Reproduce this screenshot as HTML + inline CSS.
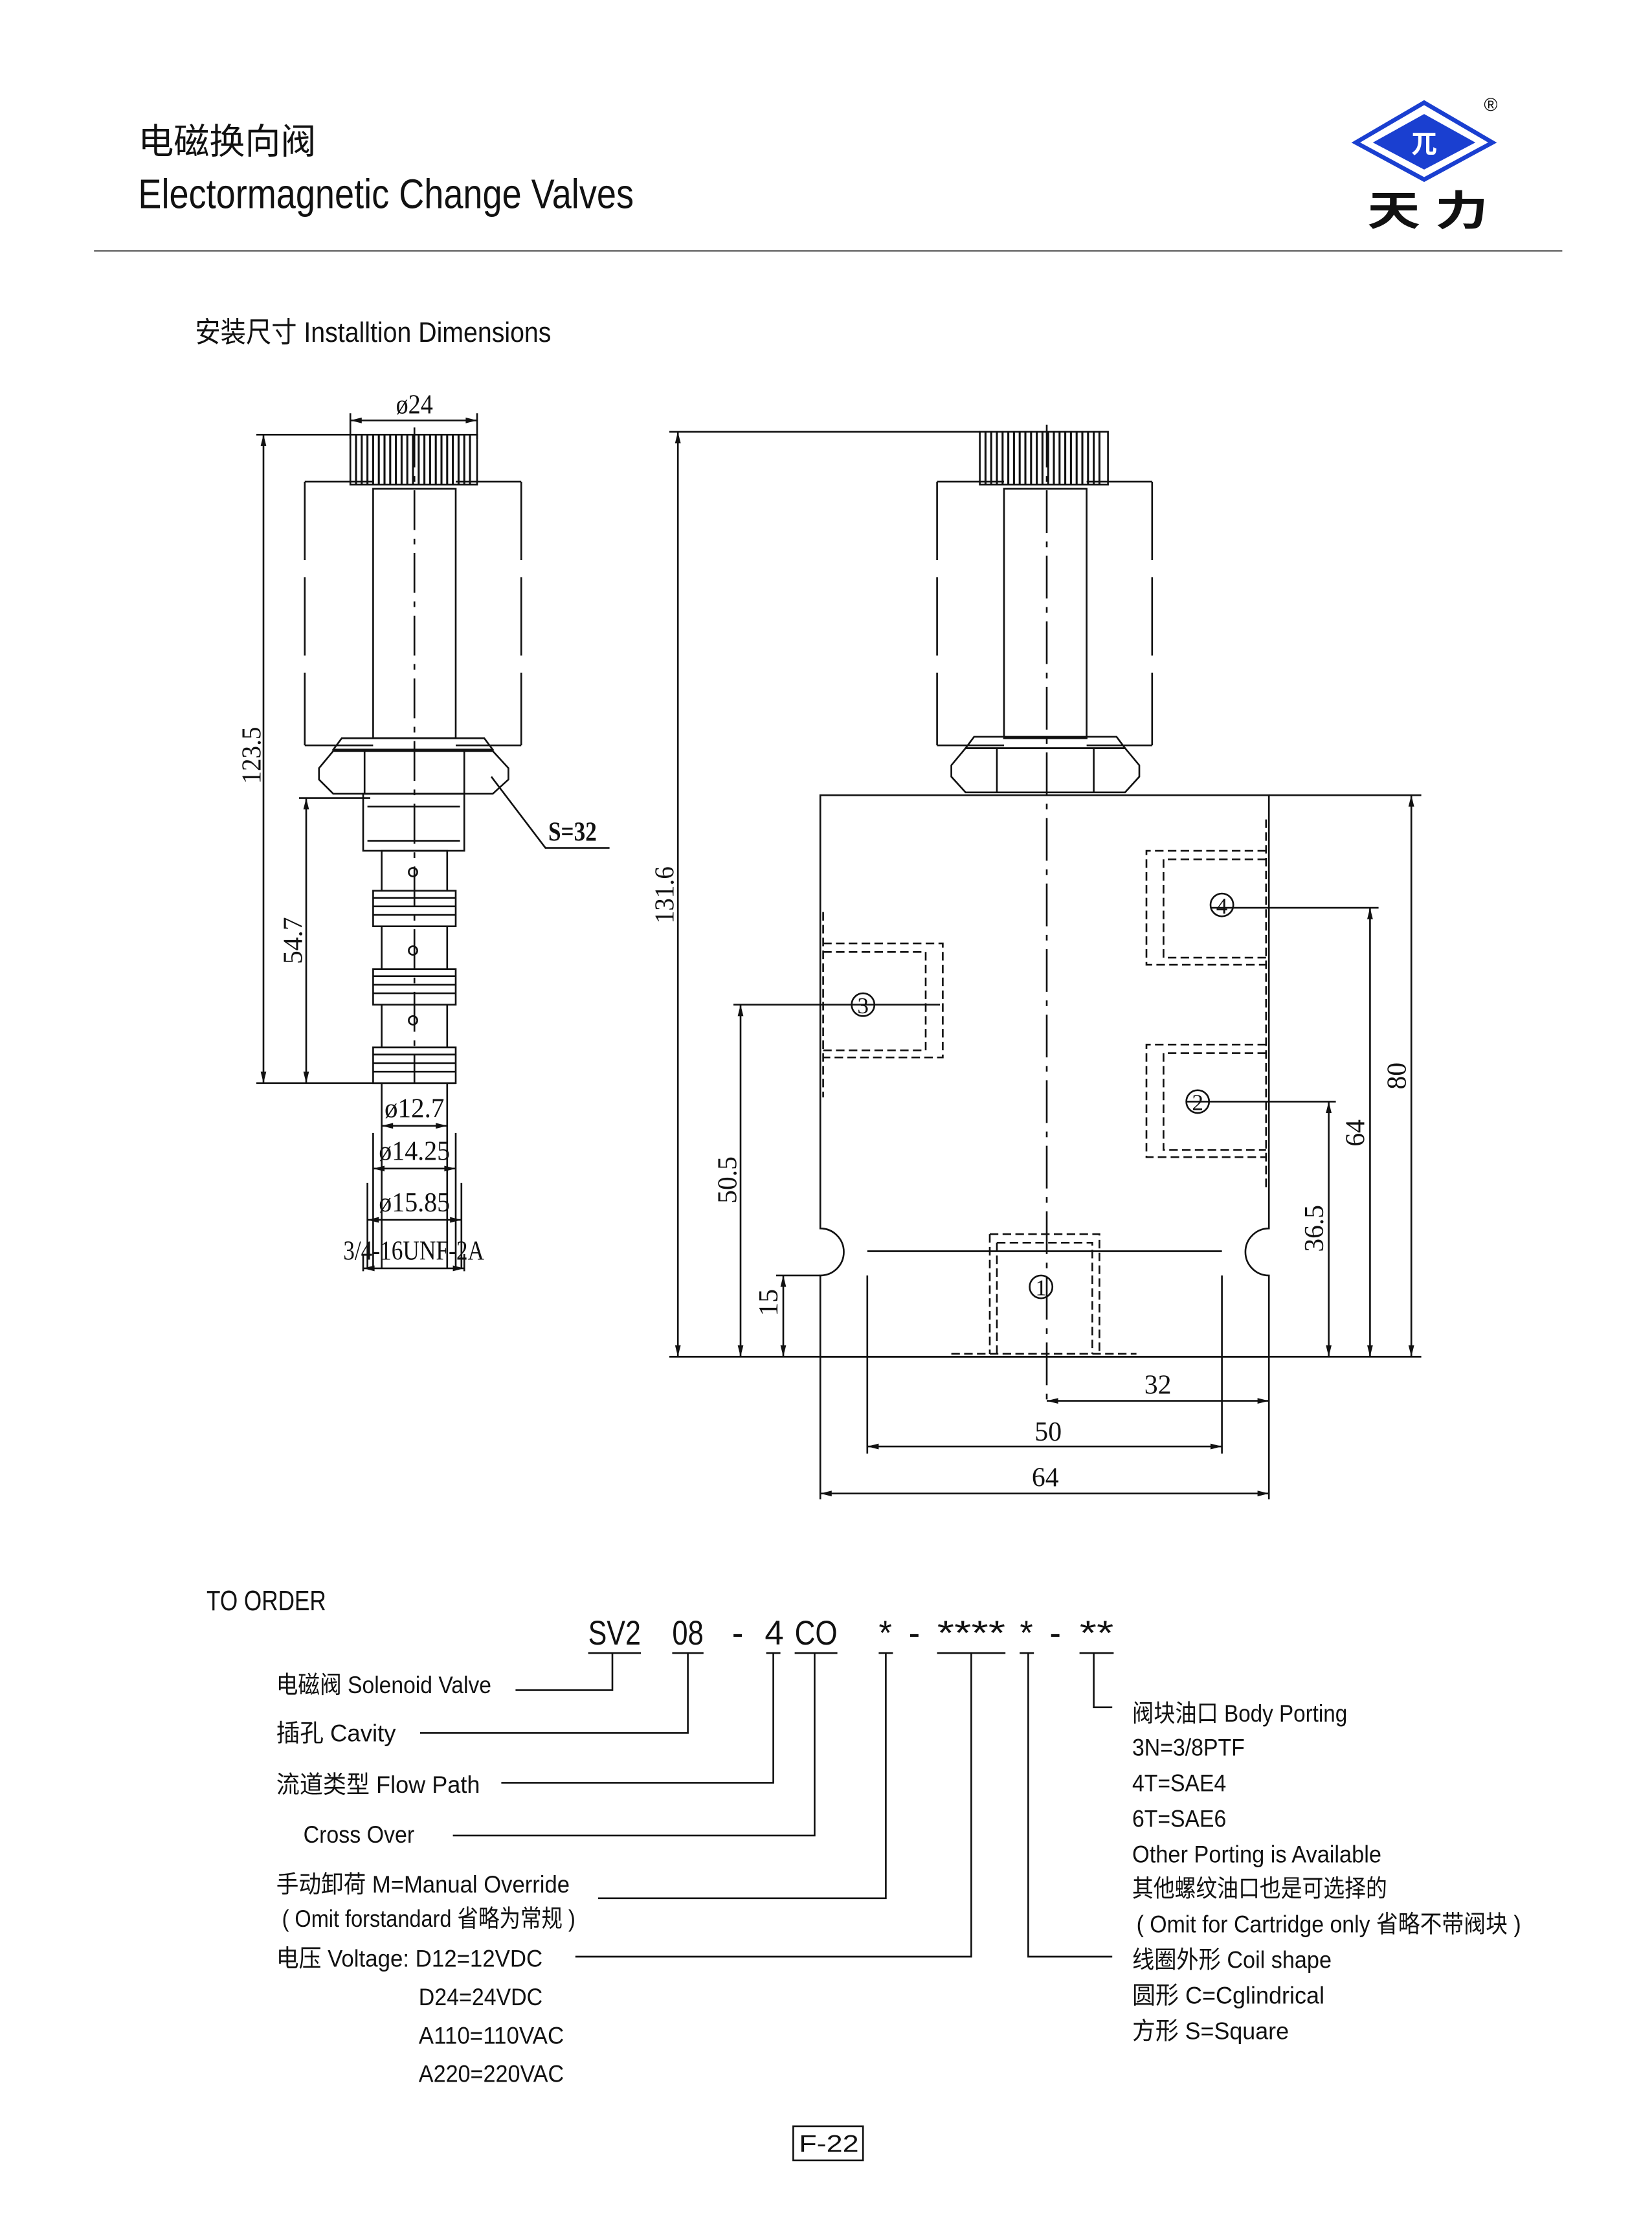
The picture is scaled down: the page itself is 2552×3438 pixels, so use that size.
<!DOCTYPE html>
<html><head><meta charset="utf-8"><style>
html,body{margin:0;padding:0;background:#fff}
svg{display:block}
text{font-family:"Liberation Sans","Noto Sans CJK SC",sans-serif;fill:#111}
.d{font-family:"Liberation Serif","Noto Serif CJK SC",serif}
</style></head><body>
<svg width="2552" height="3438" viewBox="0 0 1160 1562" preserveAspectRatio="none" xmlns="http://www.w3.org/2000/svg">
<rect width="1160" height="1562" fill="#fff"/>
<!-- header -->
<text x="97" y="108" font-size="25">电磁换向阀</text>
<text x="97" y="146" font-size="29" textLength="348" lengthAdjust="spacingAndGlyphs">Electormagnetic Change Valves</text>
<line x1="66" y1="176" x2="1097" y2="176" stroke="#777" stroke-width="1.2"/>
<polygon points="1000,72 1048,100 1000,126 952,100" fill="#fff" stroke="#1a3fd0" stroke-width="3"/>
<polygon points="1000,80 1036,100 1000,119 964,100" fill="#1a3fd0"/>
<text x="1000" y="107" font-size="18" text-anchor="middle" style="fill:#fff;font-weight:bold">兀</text>
<text x="1042" y="78" font-size="13">®</text>
<text x="960" y="158" font-size="29" font-weight="bold" textLength="85" lengthAdjust="spacingAndGlyphs">天  力</text>
<text x="137" y="240" font-size="20" textLength="250" lengthAdjust="spacingAndGlyphs">安装尺寸    Installtion Dimensions</text>

<g stroke="#111" stroke-width="1.2" fill="none">
<!-- LEFT VALVE -->
<rect x="246" y="305" width="89" height="35"/>
<g stroke-width="1.4">
<path d="M250 305v35M254 305v35M258 305v35M262 305v35M266 305v35M270 305v35M274 305v35M278 305v35M282 305v35M286 305v35M290 305v35M294 305v35M298 305v35M302 305v35M306 305v35M310 305v35M314 305v35M318 305v35M322 305v35M326 305v35M330 305v35"/>
</g>
<path d="M214 338h48M320 338h46M214 523h48M320 523h46"/>
<path d="M214 338v185M366 338v185" stroke-dasharray="55,12"/>
<rect x="262" y="343" width="58" height="175"/>
<line x1="291" y1="300" x2="291" y2="760" stroke-dasharray="28,6,4,6"/>
<path d="M234 526l6-8h100l6 8z"/>
<path d="M234 527h112l11 12v8l-11 10h-112l-10-10v-8z"/>
<path d="M256 527v30M326 527v30"/>
<rect x="255" y="557" width="71" height="40"/>
<path d="M258 566h65M258 590h65"/>
<path d="M268 597h46v28h-46zM262 625h58v25h-58zM268 650h46v30h-46zM262 680h58v25h-58zM268 705h46v30h-46zM262 735h58v25h-58z"/>
<path d="M262 630h58M262 636h58M262 642h58M262 685h58M262 691h58M262 697h58M262 740h58M262 746h58M262 752h58"/>
<circle cx="290" cy="612" r="3"/><circle cx="290" cy="667" r="3"/><circle cx="290" cy="716" r="3"/>
<!-- dims left -->
<path d="M246 290v18M335 290v18M246 295h89"/>
<path d="M180 305h66M180 760h140M185 305v455M210 560h50M215 560v200"/>
<path d="M345 545l38 50h45"/>
<path d="M268 760v130M314 760v130M262 795v95M320 795v95M258 830v60M324 830v60M255 880v12M326 880v12M268 790h46M262 820h58M258 856h66M255 890h71"/>

<!-- RIGHT VALVE -->
<rect x="688" y="303" width="90" height="37"/>
<g stroke-width="1.4">
<path d="M692 303v37M696 303v37M700 303v37M704 303v37M708 303v37M712 303v37M716 303v37M720 303v37M724 303v37M728 303v37M732 303v37M736 303v37M740 303v37M744 303v37M748 303v37M752 303v37M756 303v37M760 303v37M764 303v37M768 303v37M772 303v37"/>
</g>
<path d="M658 338h47M763 338h46M658 523h47M763 523h46"/>
<path d="M658 338v185M809 338v185" stroke-dasharray="55,12"/>
<rect x="705" y="343" width="58" height="175"/>
<path d="M678 525l6-8h100l6 8z"/>
<path d="M678 525h112l10 12v8l-10 11h-112l-10-11v-8z"/>
<path d="M700 525v31M768 525v31"/>
<path d="M576 558h315v304a16 16 0 0 0 0 33v57h-315v-57a16 16 0 0 0 0-33z"/>
<line x1="735" y1="298" x2="735" y2="985" stroke-dasharray="30,6,4,6"/>
<line x1="609" y1="878" x2="858" y2="878"/>
<g stroke-dasharray="6,3">
<path d="M578 662h84v80h-84M578 668h72v69h-72M578 640v130"/>
<path d="M889 597h-84v80h84M889 603h-72v69h72M889 575v260"/>
<path d="M889 733h-84v79h84M889 739h-72v68h72"/>
<path d="M695 866h77v84M695 866v84M700 872h67v78M700 872v78M668 950h130"/>
</g>
<circle cx="606" cy="705" r="8"/><circle cx="858" cy="635" r="8"/><circle cx="841" cy="773" r="8"/><circle cx="731" cy="903" r="8"/>
<path d="M515 705h145M850 637h118M833 773h105"/>
<!-- dims right -->
<path d="M470 303h218M476 303v649M470 952h528M520 705v247M550 895v57M545 895h31M891 558h107M991 558v394M962 637v315M933 773v179"/>
<path d="M609 895v125M858 895v125M576 952v100M891 952v100M735 983h156M609 1015h249M576 1048h315"/>

<!-- ORDER leaders -->
<path d="M413 1160h37M472 1160h22M538 1160h10M558 1160h30M617 1160h10M658 1160h48M716 1160h10M758 1160h24"/>
<path d="M430 1160v26h-68M483 1160v56h-188M543 1160v91h-191M572 1160v128h-254M622 1160v172h-202M682 1160v213h-278M722 1160v213h59M768 1160v38h13"/>
<rect x="557" y="1492" width="49" height="24"/>
</g>
<!-- arrowheads -->
<g fill="#111">
<path d="M246 295l8-2v4zM335 295l-8-2v4z"/>
<path d="M185 305l-2 8h4zM185 760l-2-8h4zM215 560l-2 8h4zM215 760l-2-8h4z"/>
<path d="M268 790l8-2v4zM314 790l-8-2v4zM262 820l8-2v4zM320 820l-8-2v4zM258 856l8-2v4zM324 856l-8-2v4zM255 890l8-2v4zM326 890l-8-2v4z"/>
<path d="M476 303l-2 8h4zM476 952l-2-8h4zM520 705l-2 8h4zM520 952l-2-8h4zM550 895l-2 8h4zM550 952l-2-8h4z"/>
<path d="M991 558l-2 8h4zM991 952l-2-8h4zM962 637l-2 8h4zM962 952l-2-8h4zM933 773l-2 8h4zM933 952l-2-8h4z"/>
<path d="M735 983l8-2v4zM891 983l-8-2v4zM609 1015l8-2v4zM858 1015l-8-2v4zM576 1048l8-2v4zM891 1048l-8-2v4z"/>
</g>
<!-- dim text -->
<g class="d" font-size="19">
<text x="278" y="290" class="d" textLength="26" lengthAdjust="spacingAndGlyphs">ø24</text>
<text x="183" y="530" class="d" transform="rotate(-90 183 530)" text-anchor="middle" textLength="40" lengthAdjust="spacingAndGlyphs">123.5</text>
<text x="212" y="660" class="d" transform="rotate(-90 212 660)" text-anchor="middle" textLength="33" lengthAdjust="spacingAndGlyphs">54.7</text>
<text x="385" y="590" class="d" font-weight="bold" textLength="34" lengthAdjust="spacingAndGlyphs">S=32</text>
<text x="270" y="784" class="d" textLength="42" lengthAdjust="spacingAndGlyphs">ø12.7</text>
<text x="266" y="814" class="d" textLength="50" lengthAdjust="spacingAndGlyphs">ø14.25</text>
<text x="266" y="850" class="d" textLength="50" lengthAdjust="spacingAndGlyphs">ø15.85</text>
<text x="241" y="884" class="d" textLength="99" lengthAdjust="spacingAndGlyphs">3/4-16UNF-2A</text>
<text x="473" y="628" class="d" transform="rotate(-90 473 628)" text-anchor="middle" textLength="40" lengthAdjust="spacingAndGlyphs">131.6</text>
<text x="517" y="828" class="d" transform="rotate(-90 517 828)" text-anchor="middle" textLength="33" lengthAdjust="spacingAndGlyphs">50.5</text>
<text x="546" y="914" class="d" transform="rotate(-90 546 914)" text-anchor="middle">15</text>
<text x="987" y="755" class="d" transform="rotate(-90 987 755)" text-anchor="middle">80</text>
<text x="958" y="795" class="d" transform="rotate(-90 958 795)" text-anchor="middle">64</text>
<text x="929" y="862" class="d" transform="rotate(-90 929 862)" text-anchor="middle" textLength="33" lengthAdjust="spacingAndGlyphs">36.5</text>
<text x="813" y="978" class="d" text-anchor="middle">32</text>
<text x="736" y="1011" class="d" text-anchor="middle">50</text>
<text x="734" y="1043" class="d" text-anchor="middle">64</text>
<text x="606" y="711" class="d" font-size="16" text-anchor="middle">3</text>
<text x="858" y="641" class="d" font-size="16" text-anchor="middle">4</text>
<text x="841" y="779" class="d" font-size="16" text-anchor="middle">2</text>
<text x="731" y="909" class="d" font-size="16" text-anchor="middle">1</text>
</g>
<!-- order text -->
<text x="145" y="1130" font-size="20" textLength="84" lengthAdjust="spacingAndGlyphs">TO ORDER</text>
<g font-size="24">
<text x="413" y="1154" textLength="37" lengthAdjust="spacingAndGlyphs">SV2</text>
<text x="472" y="1154" textLength="22" lengthAdjust="spacingAndGlyphs">08</text>
<text x="514" y="1154">-</text>
<text x="537" y="1154">4</text>
<text x="558" y="1154" textLength="30" lengthAdjust="spacingAndGlyphs">CO</text>
<text x="617" y="1154">*</text><text x="638" y="1154">-</text>
<text x="658" y="1154" textLength="48" lengthAdjust="spacingAndGlyphs">****</text>
<text x="716" y="1154">*</text><text x="737" y="1154">-</text>
<text x="758" y="1154" textLength="24" lengthAdjust="spacingAndGlyphs">**</text>
</g>
<g font-size="17">
<text x="194" y="1188" textLength="151" lengthAdjust="spacingAndGlyphs">电磁阀 Solenoid Valve</text>
<text x="194" y="1222" textLength="84" lengthAdjust="spacingAndGlyphs">插孔  Cavity</text>
<text x="194" y="1258" textLength="143" lengthAdjust="spacingAndGlyphs">流道类型  Flow Path</text>
<text x="213" y="1293" textLength="78" lengthAdjust="spacingAndGlyphs">Cross Over</text>
<text x="194" y="1328" textLength="206" lengthAdjust="spacingAndGlyphs">手动卸荷 M=Manual  Override</text>
<text x="198" y="1352" textLength="206" lengthAdjust="spacingAndGlyphs">( Omit forstandard 省略为常规 )</text>
<text x="194" y="1380" textLength="187" lengthAdjust="spacingAndGlyphs">电压 Voltage: D12=12VDC</text>
<text x="294" y="1407" textLength="87" lengthAdjust="spacingAndGlyphs">D24=24VDC</text>
<text x="294" y="1434" textLength="102" lengthAdjust="spacingAndGlyphs">A110=110VAC</text>
<text x="294" y="1461" textLength="102" lengthAdjust="spacingAndGlyphs">A220=220VAC</text>
<text x="795" y="1208" textLength="151" lengthAdjust="spacingAndGlyphs">阀块油口 Body Porting</text>
<text x="795" y="1232" textLength="79" lengthAdjust="spacingAndGlyphs">3N=3/8PTF</text>
<text x="795" y="1257" textLength="66" lengthAdjust="spacingAndGlyphs">4T=SAE4</text>
<text x="795" y="1282" textLength="66" lengthAdjust="spacingAndGlyphs">6T=SAE6</text>
<text x="795" y="1307" textLength="175" lengthAdjust="spacingAndGlyphs">Other Porting is Available</text>
<text x="795" y="1331" textLength="179" lengthAdjust="spacingAndGlyphs">其他螺纹油口也是可选择的</text>
<text x="798" y="1356" textLength="270" lengthAdjust="spacingAndGlyphs">( Omit for Cartridge only 省略不带阀块 )</text>
<text x="795" y="1381" textLength="140" lengthAdjust="spacingAndGlyphs">线圈外形  Coil shape</text>
<text x="795" y="1406" textLength="135" lengthAdjust="spacingAndGlyphs">圆形   C=Cglindrical</text>
<text x="795" y="1431" textLength="110" lengthAdjust="spacingAndGlyphs">方形   S=Square</text>
<text x="582" y="1510" text-anchor="middle" textLength="42" lengthAdjust="spacingAndGlyphs">F-22</text>
</g>
</svg>
</body></html>
